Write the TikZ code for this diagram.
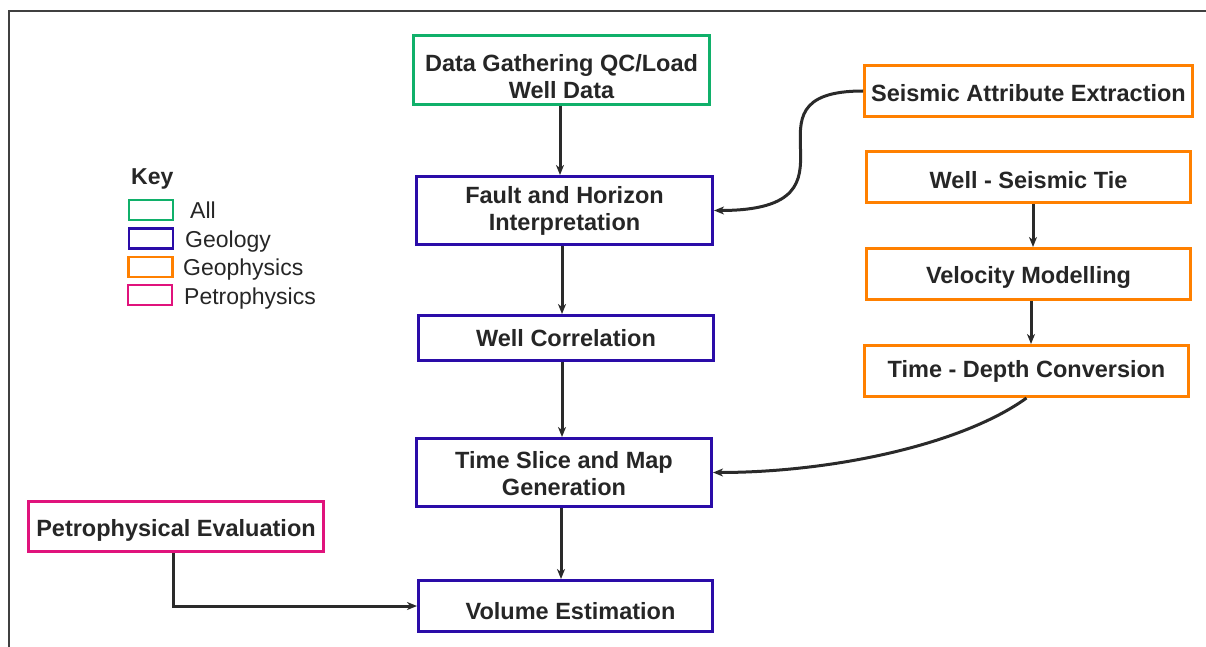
\documentclass[tikz,border=0pt]{standalone}
\usepackage{fontspec}
\setmainfont{Liberation Sans}
\usetikzlibrary{arrows.meta}
\definecolor{cgreen}{HTML}{10B06A}
\definecolor{cblue}{HTML}{2A0CA8}
\definecolor{corange}{HTML}{FF8000}
\definecolor{cpink}{HTML}{E0137C}
\definecolor{ctext}{HTML}{262626}
\definecolor{cline}{HTML}{2A2A2A}
\definecolor{cframe}{HTML}{404040}
\tikzset{
  box/.style={draw, line width=3pt, fill=white, rectangle, inner sep=2pt, align=center,
    text=ctext, font=\fontsize{23.5}{27}\selectfont\bfseries},
  allbox/.style={box, draw=cgreen},
  geobox/.style={box, draw=cblue},
  gphbox/.style={box, draw=corange},
  petbox/.style={box, draw=cpink},
  keybox/.style={draw, line width=2.5pt, minimum width=44pt, minimum height=20pt, inner sep=0pt},
  keylabel/.style={anchor=base west, inner sep=0pt, text=ctext, font=\fontsize{23}{27}\selectfont},
  arr/.style={draw=cline, line width=3pt, -{Stealth[length=10pt,width=8pt,inset=3pt]}},
}
\newcommand{\shd}[2]{\raisebox{-#1}[\height][\depth]{#2}}
\newcommand{\twol}[3]{\shd{#1}{\begin{tabular}{@{}c@{}}#2\\#3\end{tabular}}}
\begin{document}
\begin{tikzpicture}[x=1pt,y=-1pt]
\useasboundingbox (0,0) rectangle (1206,647);
% frame
\coordinate (fa) at (9,647);
\coordinate (fb) at (9,11);
\coordinate (fc) at (1206,11);
\draw[cframe, line width=2.5pt] (fa) -- (fb) -- (fc);

% legend
\node[keylabel, font=\fontsize{23}{27}\selectfont\bfseries] (key) at (131,184) {Key};
\node[keybox, draw=cgreen]  (kall) at (151,210) {};
\node[keybox, draw=cblue]   (kgeo) at (151,238.5) {};
\node[keybox, draw=corange] (kgph) at (150.5,267) {};
\node[keybox, draw=cpink]   (kpet) at (150,295) {};
\node[keylabel] (lall) at (190,218) {All};
\node[keylabel] (lgeo) at (185,247) {Geology};
\node[keylabel] (lgph) at (183,275) {Geophysics};
\node[keylabel] (lpet) at (184,304) {Petrophysics};

% main column
\node[allbox, minimum width=296pt, minimum height=69pt] (data) at (561.5,70) {\twol{9.5pt}{Data Gathering QC/Load}{Well Data}};
\node[geobox, minimum width=296pt, minimum height=68pt] (fault) at (564.5,210.5) {\twol{1.5pt}{Fault and Horizon}{Interpretation}};
\node[geobox, minimum width=295pt, minimum height=45pt] (corr) at (566,338) {Well Correlation};
\node[geobox, minimum width=295pt, minimum height=68pt] (slice) at (564,472.5) {\twol{4.5pt}{Time Slice and Map}{Generation}};
\node[geobox, minimum width=294pt, minimum height=51pt] (vol) at (565.5,606) {\shd{5pt}{\hspace*{10pt}Volume Estimation}};
\node[petbox, minimum width=295pt, minimum height=50pt] (petro) at (176,526.5) {\shd{4pt}{Petrophysical Evaluation}};

% right column
\node[gphbox, minimum width=328pt, minimum height=51pt] (seis) at (1028.5,91) {\shd{2pt}{Seismic Attribute Extraction}};
\node[gphbox, minimum width=324pt, minimum height=51pt] (tie) at (1028.5,177) {\shd{3pt}{Well - Seismic Tie}};
\node[gphbox, minimum width=324pt, minimum height=51pt] (vel) at (1028.5,274) {\shd{3pt}{Velocity Modelling}};
\node[gphbox, minimum width=324pt, minimum height=51pt] (tdc) at (1026.5,371) {Time - Depth Conversion};

% connectors
\draw[arr] ([xshift=-1.5pt]data.south) -- ([xshift=-1.5pt]data.south |- fault.north);
\draw[arr] ([xshift=-2.5pt]fault.south) -- ([xshift=-2.5pt]fault.south |- corr.north);
\draw[arr] ([xshift=-4pt]corr.south) -- ([xshift=-4pt]corr.south |- slice.north);
\draw[arr] ([xshift=-3pt]slice.south) -- ([xshift=-3pt]slice.south |- vol.north);
\draw[arr] ([xshift=4.5pt]tie.south) -- ([xshift=4.5pt]tie.south |- vel.north);
\draw[arr] ([xshift=2.5pt]vel.south) -- ([xshift=2.5pt]vel.south |- tdc.north);
\draw[arr] (seis.west) .. controls +(-134,0) and +(164,0) .. (fault.east);
\draw[arr] (tdc.south) .. controls +(-65,47) and +(118,0) .. (slice.east);
\draw[arr] ([xshift=-3pt]petro.south) |- (vol.west);
\end{tikzpicture}
\end{document}
